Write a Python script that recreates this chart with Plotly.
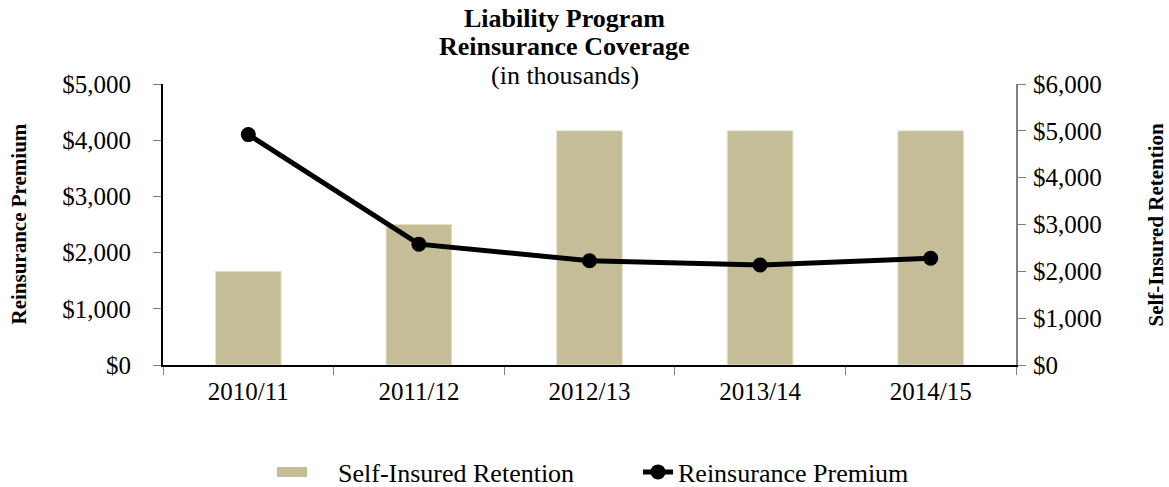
import plotly.graph_objects as go

# data (in thousands)
years = ["2010/11", "2011/12", "2012/13", "2013/14", "2014/15"]
self_insured = [2000, 3000, 5000, 5000, 5000]
reins_premium = [4100, 2150, 1855, 1780, 1900]

font_fam = "Liberation Serif, Times New Roman, serif"
bar_col = "#c5bd98"

fig = go.Figure()

# bars go on the right axis (y), line on the left one (y2) so the line is drawn on top
fig.add_trace(go.Bar(
    x=years, y=self_insured,
    name="Self-Insured Retention", showlegend=False,
    marker=dict(color=bar_col, line=dict(color="#e6e1cb", width=1)),
    yaxis="y",
))
# legend entry for the bars (wide swatch like the original)
fig.add_trace(go.Scatter(
    x=[None], y=[None], mode="lines",
    name="\u00a0\u00a0\u00a0\u00a0Self-Insured Retention",
    line=dict(color=bar_col, width=11),
    yaxis="y",
))
fig.add_trace(go.Scatter(
    x=years, y=reins_premium,
    name="Reinsurance Premium",
    mode="lines+markers",
    line=dict(color="black", width=5),
    marker=dict(color="black", size=15),
    yaxis="y2",
))

fig.update_layout(
    width=1169, height=487,
    margin=dict(l=163, r=153, t=84, b=122),
    paper_bgcolor="white", plot_bgcolor="white",
    font=dict(family=font_fam, color="black", size=25),
    bargap=0.615,
    xaxis=dict(
        showline=True, linecolor="black", linewidth=2,
        ticks="outside", ticklen=8, tickcolor="#808080",
        tickson="boundaries", showgrid=False, automargin=False,
        tickfont=dict(size=25), ticklabelstandoff=3,
    ),
    yaxis=dict(
        side="right", range=[0, 6000], dtick=1000,
        tickprefix="$", tickformat=",d",
        showline=True, linecolor="#808080", linewidth=2,
        ticks="outside", ticklen=8, tickcolor="#808080",
        showgrid=False, zeroline=False, automargin=False,
        tickfont=dict(size=25), ticklabelstandoff=2,
    ),
    yaxis2=dict(
        side="left", overlaying="y", range=[0, 5000], dtick=1000,
        tickprefix="$", tickformat=",d",
        showline=True, linecolor="black", linewidth=2,
        ticks="outside", ticklen=8, tickcolor="#808080",
        showgrid=False, zeroline=False, automargin=False,
        tickfont=dict(size=25), ticklabelstandoff=17,
    ),
    legend=dict(
        orientation="h", x=0.1278, xanchor="left",
        yref="container", y=1 - 472 / 487, yanchor="middle",
        font=dict(size=26), traceorder="normal",
        entrywidth=321, entrywidthmode="pixels",
    ),
)

# title lines
title_lines = ["<b>Liability Program</b>", "<b>Reinsurance Coverage</b>", "(in thousands)"]
for i, t in enumerate(title_lines):
    fig.add_annotation(
        text=t, xref="paper", yref="paper", x=0.471, y=1 + (66 - 28.5 * i) / 281,
        xanchor="center", yanchor="middle", showarrow=False,
        font=dict(size=26, family=font_fam, color="black"),
    )

# axis titles
fig.add_annotation(
    text="<b>Reinsurance Premium</b>", xref="paper", yref="paper",
    x=-(163 - 18) / 853, y=0.5, textangle=-90, showarrow=False,
    xanchor="center", yanchor="middle", font=dict(size=21),
)
fig.add_annotation(
    text="<b>Self-Insured Retention</b>", xref="paper", yref="paper",
    x=1 + (1155 - 1016) / 853, y=0.5, textangle=-90, showarrow=False,
    xanchor="center", yanchor="middle", font=dict(size=21),
)

# drop the default page margin so the figure sits at the window's corner
fig.write_html(
    "out.html",
    config={"displayModeBar": False},
    post_script="document.body.style.margin='0';document.body.style.overflow='hidden';",
)
